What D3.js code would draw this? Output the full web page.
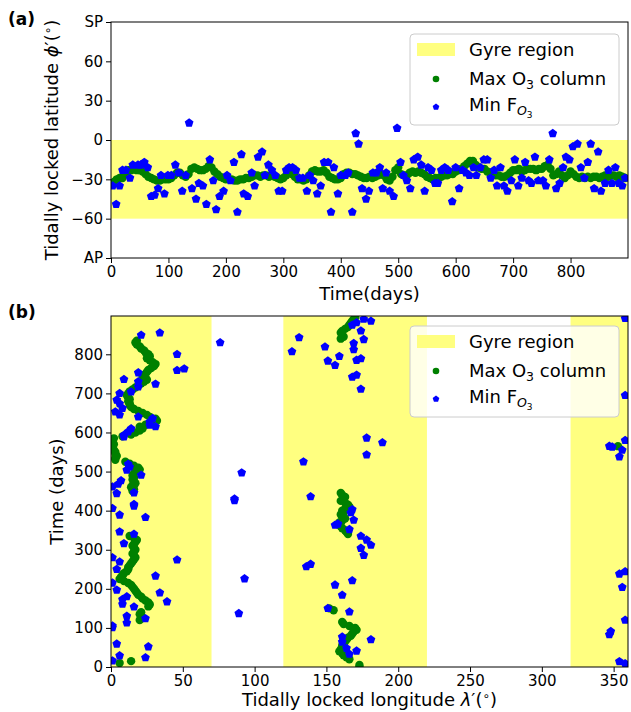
<!DOCTYPE html>
<html>
<head>
<meta charset="utf-8">
<script src="https://cdn.jsdelivr.net/npm/d3@7"></script>
<style>
    body {margin: 0; background: #fff;}
    svg text {font-family: "DejaVu Sans", sans-serif; fill: #000;}
</style>
</head>
<body>
<svg id="mainsvg" width="631" height="712"></svg>
<script>
// model output every 5 days
const sampleDays = d3.range(0, 900, 5);

// latitude of max O3 column, one value per sample day
const maxO3Lat = [
    -33,-32,-30,-29,-29,-26,-23,-23,-22,-23,-23,-24,-26,-28,-29,-30,-31,-31,-30,-30,
    -30,-29,-27,-25,-25,-27,-28,-26,-22,-21,-22,-23,-23,-22,-20,-21,-24,-26,-28,-29,
    -30,-30,-30,-31,-31,-30,-30,-29,-29,-28,-27,-27,-28,-27,-27,-28,-27,-28,-29,-30,
    -29,-27,-25,-26,-28,-30,-30,-31,-30,-27,-24,-23,-24,-24,-23,-25,-28,-29,-30,-30,
    -29,-26,-25,-25,-26,-26,-27,-28,-29,-29,-28,-29,-28,-27,-26,-27,-30,-31,-28,-23,
    -21,-26,-27,-27,-25,-24,-25,-24,-25,-26,-28,-29,-30,-29,-29,-28,-27,-27,-26,-26,
    -24,-23,-22,-20,-18,-16,-16,-19,-21,-22,-22,-24,-25,-26,-27,-27,-28,-28,-27,-25,
    -23,-23,-22,-24,-23,-22,-22,-22,-23,-22,-22,-20,-19,-22,-27,-26,-24,-27,-29,-27,
    -24,-26,-28,-29,-28,-29,-28,-29,-28,-28,-29,-28,-27,-28,-27,-27,-28,-27,-28,-29
];

// longitude of max O3 column, one value per sample day
const maxO3Lon = [
    173,173,6,14,166,164,162,161,159,160,162,161,162,163,164,165,167,168,169,171,
    170,166,162,161,20,22,21,20,21,155,152,26,27,26,24,22,21,19,18,17,
    16,15,14,12,9,6,7,8,9,11,12,12,13,14,15,16,17,16,15,16,
    17,16,15,16,17,18,16,13,165,164,163,161,160,158,159,161,163,161,160,162,
    161,163,166,165,163,160,162,163,161,160,15,16,14,15,17,16,15,16,15,16,
    17,20,19,16,13,10,3,3,4,3,3,2,1,353,2,1,1,2,8,14,
    17,20,22,20,24,28,32,31,27,25,22,19,16,14,13,13,12,13,12,11,
    12,13,15,17,19,21,23,25,24,22,24,25,26,28,30,31,29,27,25,27,
    26,24,23,21,20,18,17,18,160,162,161,160,161,163,165,166,167,168,169,170
];

// min F_O3 : [day, latitude]
const minFLat = [
    [3,-35],[9,-49],[15,-35],[20,-23],[26,-23],[33,-29],[38,-19],[47,-19],[52,-19],[58,-17],
    [64,-21],[70,-43],[76,-42],[82,-37],[87,-27],[93,-41],[99,-27],[105,-27],[112,-19],[118,-25],
    [124,-39],[130,-27],[136,13],[141,-37],[148,-45],[153,-33],[160,-35],[166,-49],[172,-15],[178,-31],
    [183,-53],[189,-43],[196,-39],[202,-27],[208,-31],[214,-17],[220,-55],[227,-11],[231,-41],[238,-43],
    [245,-25],[250,-35],[256,-13],[263,-9],[268,-27],[274,-19],[280,-23],[286,-27],[292,-39],[298,-39],
    [305,-23],[310,-21],[316,-21],[322,-23],[328,-29],[334,-29],[341,-39],[346,-27],[352,-31],[359,-41],
    [365,-35],[371,-17],[378,-17],[383,-55],[388,-21],[395,-41],[400,-27],[408,-27],[413,-25],[420,-55],
    [426,5],[431,-3],[437,-37],[444,-45],[449,-39],[456,-25],[462,-25],[468,-21],[473,-37],[479,-25],
    [485,-39],[492,-43],[498,9],[504,-17],[509,-27],[515,-31],[521,-37],[527,-15],[534,-13],[540,-19],
    [546,-39],[552,-21],[558,-23],[564,-33],[569,-33],[575,-23],[581,-21],[587,-23],[594,-47],[600,-21],
    [606,-37],[612,-23],[618,-25],[624,-27],[631,-21],[636,-27],[643,-21],[649,-15],[655,-15],[661,-29],
    [667,-23],[672,-35],[678,-21],[684,-35],[690,-39],[697,-31],[703,-15],[709,-35],[715,-29],[721,-17],
    [727,-31],[732,-33],[738,-13],[744,-31],[752,-31],[757,-35],[763,-15],[769,5],[775,-37],[781,-33],
    [787,-21],[792,-13],[798,-15],[804,-5],[812,-3],[818,-21],[824,-29],[830,-17],[835,-3],[841,-37],
    [848,-9],[853,-39],[860,-33],[866,-23],[872,-33],[878,-21],[884,-33],[890,-35],[895,-29]
];

// min F_O3 : [longitude, day]
const minFLon = [
    [21,849],[34,855],[46,800],[46,759],[51,763],[76,830],[19,753],[9,736],[19,730],[19,717],
    [31,724],[14,704],[6,700],[4,683],[6,674],[8,662],[3,653],[6,645],[19,640],[27,627],
    [29,636],[27,619],[31,615],[14,610],[12,602],[9,593],[9,589],[12,519],[13,512],[11,504],
    [21,491],[7,477],[5,468],[1,461],[4,444],[16,446],[16,416],[16,412],[91,497],[86,430],
    [86,426],[1,406],[6,389],[24,383],[6,346],[16,340],[9,316],[1,280],[6,269],[4,250],
    [1,215],[4,197],[11,180],[8,173],[8,161],[16,154],[24,124],[11,130],[11,113],[1,105],
    [1,101],[4,59],[26,52],[6,29],[24,24],[1,16],[46,274],[31,233],[34,190],[39,167],
    [93,226],[89,137],
    [131,843],[126,807],[149,819],[151,783],[156,772],[159,795],[169,828],[169,812],[174,860],[176,838],
    [168,875],[171,881],[176,890],[181,885],[171,785],[174,789],[168,742],[171,747],[174,711],[178,586],
    [189,574],[178,543],[134,525],[139,436],[168,403],[167,395],[169,376],[158,366],[156,363],[166,352],
    [174,335],[178,325],[181,312],[174,304],[176,286],[136,257],[139,263],[168,221],[156,210],[161,184],
    [151,150],[166,141],[161,77],[161,64],[181,70],[164,48],[171,41],[166,33],
    [358,695],[358,580],[347,565],[349,563],[356,555],[354,538],[358,244],[354,238],[356,204],[358,120],
    [348,91],[347,83],[354,14],[358,9],[358,892]
];

const gyreLat = [-60, 0];
const gyreLon = [[0, 70], [120, 220], [320, 360]];
const latTicks = [-90, -60, -30, 0, 30, 60, 90];
const dayTicks = [0, 100, 200, 300, 400, 500, 600, 700, 800];
const lonTicks = [0, 50, 100, 150, 200, 250, 300, 350];

const YELLOW = "#ffff80", GREEN = "#008000", BLUE = "#0000ff";

let svg = d3.select("#mainsvg");

// pentagon marker, matplotlib "p"
const pentagon = {
    draw: function(ctx, size) {
        let r = Math.sqrt(size);
        for (let i = 0; i < 5; i++) {
            let a = -Math.PI/2 + i*2*Math.PI/5;
            if (i === 0) ctx.moveTo(r*Math.cos(a), r*Math.sin(a));
            else ctx.lineTo(r*Math.cos(a), r*Math.sin(a));
        }
        ctx.closePath();
    }
};

function styleAxis(g) {
    g.select(".domain").remove();
    g.selectAll(".tick line").attr("stroke", "#000").attr("stroke-width", 1);
    g.selectAll(".tick text").attr("font-size", 15).attr("font-family", "DejaVu Sans");
}

function addLegend(g, x0, y0) {
    let lg = g.append("g").attr("transform", `translate(${x0},${y0})`);
    lg.append("rect").attr("width", 209).attr("height", 91).attr("rx", 4)
        .attr("fill", "#fff").attr("fill-opacity", 0.8)
        .attr("stroke", "#cccccc").attr("stroke-width", 1);
    lg.append("rect").attr("x", 7).attr("y", 9).attr("width", 38).attr("height", 13).attr("fill", YELLOW);
    lg.append("text").attr("x", 59).attr("y", 22).attr("font-size", 18).text("Gyre region");
    lg.append("circle").attr("cx", 26).attr("cy", 45).attr("r", 3.3).attr("fill", GREEN);
    let t2 = lg.append("text").attr("x", 59).attr("y", 51).attr("font-size", 18);
    t2.append("tspan").text("Max O");
    t2.append("tspan").attr("font-size", 12.5).attr("dy", 4).text("3");
    t2.append("tspan").attr("dy", -4).text(" column");
    lg.append("path").attr("transform", "translate(26,73)")
        .attr("d", d3.symbol().type(pentagon).size(3.5*3.5)()).attr("fill", BLUE);
    let t3 = lg.append("text").attr("x", 59).attr("y", 77).attr("font-size", 18);
    t3.append("tspan").text("Min F");
    t3.append("tspan").attr("font-size", 12.5).attr("font-style", "italic").attr("dy", 4).text("O");
    t3.append("tspan").attr("font-size", 9).attr("dy", 3).text("3");
}

// ---------- panel (a)
const ax = {l: 111, r: 628, t: 22, b: 258};
let xA = d3.scaleLinear().domain([0, 900]).range([ax.l, ax.r]);
let yA = d3.scaleLinear().domain([-90, 90]).range([ax.b, ax.t]);

svg.append("clipPath").attr("id", "clipA").append("rect")
    .attr("x", ax.l).attr("y", ax.t).attr("width", ax.r-ax.l).attr("height", ax.b-ax.t);
let gA = svg.append("g");
gA.append("rect").attr("x", ax.l).attr("width", ax.r-ax.l)
    .attr("y", yA(gyreLat[1])).attr("height", yA(gyreLat[0])-yA(gyreLat[1])).attr("fill", YELLOW);
let ptsA = gA.append("g").attr("clip-path", "url(#clipA)");
ptsA.selectAll("circle").data(maxO3Lat).enter().append("circle")
    .attr("cx", (d, i) => xA(sampleDays[i])).attr("cy", d => yA(d))
    .attr("r", 4.2).attr("fill", GREEN);
ptsA.selectAll("path").data(minFLat).enter().append("path")
    .attr("transform", d => `translate(${xA(d[0])},${yA(d[1])})`)
    .attr("d", d3.symbol().type(pentagon).size(4.6*4.6)()).attr("fill", BLUE);

gA.append("g").attr("transform", `translate(0,${ax.b})`)
    .call(d3.axisBottom(xA).tickValues(dayTicks).tickSize(5).tickPadding(3).tickFormat(d3.format("d")))
    .call(styleAxis);
gA.append("g").attr("transform", `translate(${ax.l},0)`)
    .call(d3.axisLeft(yA).tickValues(latTicks).tickSize(5).tickPadding(3)
        .tickFormat(d => d === 90 ? "SP" : d === -90 ? "AP" : d3.format("d")(d)))
    .call(styleAxis);
gA.append("rect").attr("x", ax.l).attr("y", ax.t).attr("width", ax.r-ax.l).attr("height", ax.b-ax.t)
    .attr("fill", "none").attr("stroke", "#000").attr("stroke-width", 1);

gA.append("text").attr("x", (ax.l+ax.r)/2).attr("y", 300).attr("text-anchor", "middle")
    .attr("font-size", 18).text("Time(days)");
let ylA = gA.append("text").attr("transform", `translate(58,${(ax.t+ax.b)/2}) rotate(-90)`)
    .attr("text-anchor", "middle").attr("font-size", 18);
ylA.append("tspan").text("Tidally locked latitude ");
ylA.append("tspan").attr("font-style", "italic").text("ϕ");
ylA.append("tspan").text("′(");
ylA.append("tspan").attr("font-size", 12).attr("dy", -6).text("∘");
ylA.append("tspan").attr("dy", 6).text(")");
gA.append("text").attr("x", 8).attr("y", 25).attr("font-size", 17).attr("font-weight", "bold").text("(a)");
addLegend(gA, 410, 34);

// ---------- panel (b)
const bx = {l: 111, r: 628, t: 316, b: 667};
let xB = d3.scaleLinear().domain([0, 360]).range([bx.l, bx.r]);
let yB = d3.scaleLinear().domain([0, 898]).range([bx.b, bx.t]);

svg.append("clipPath").attr("id", "clipB").append("rect")
    .attr("x", bx.l).attr("y", bx.t).attr("width", bx.r-bx.l).attr("height", bx.b-bx.t);
let gB = svg.append("g");
gB.selectAll(".gyre").data(gyreLon).enter().append("rect").attr("class", "gyre")
    .attr("x", d => xB(d[0])).attr("width", d => xB(d[1])-xB(d[0]))
    .attr("y", bx.t).attr("height", bx.b-bx.t).attr("fill", YELLOW);
let ptsB = gB.append("g").attr("clip-path", "url(#clipB)");
ptsB.selectAll("circle").data(maxO3Lon).enter().append("circle")
    .attr("cx", d => xB(d)).attr("cy", (d, i) => yB(sampleDays[i]))
    .attr("r", 4.2).attr("fill", GREEN);
ptsB.selectAll("path").data(minFLon).enter().append("path")
    .attr("transform", d => `translate(${xB(d[0])},${yB(d[1])})`)
    .attr("d", d3.symbol().type(pentagon).size(4.6*4.6)()).attr("fill", BLUE);

gB.append("g").attr("transform", `translate(0,${bx.b})`)
    .call(d3.axisBottom(xB).tickValues(lonTicks).tickSize(5).tickPadding(3).tickFormat(d3.format("d")))
    .call(styleAxis);
gB.append("g").attr("transform", `translate(${bx.l},0)`)
    .call(d3.axisLeft(yB).tickValues(dayTicks).tickSize(5).tickPadding(3).tickFormat(d3.format("d")))
    .call(styleAxis);
gB.append("rect").attr("x", bx.l).attr("y", bx.t).attr("width", bx.r-bx.l).attr("height", bx.b-bx.t)
    .attr("fill", "none").attr("stroke", "#000").attr("stroke-width", 1);

let xlB = gB.append("text").attr("x", (bx.l+bx.r)/2).attr("y", 706).attr("text-anchor", "middle")
    .attr("font-size", 18);
xlB.append("tspan").text("Tidally locked longitude ");
xlB.append("tspan").attr("font-style", "italic").text("λ");
xlB.append("tspan").text("′(");
xlB.append("tspan").attr("font-size", 12).attr("dy", -6).text("∘");
xlB.append("tspan").attr("dy", 6).text(")");
gB.append("text").attr("transform", `translate(63,${(bx.t+bx.b)/2}) rotate(-90)`)
    .attr("text-anchor", "middle").attr("font-size", 18).text("Time (days)");
gB.append("text").attr("x", 8).attr("y", 318).attr("font-size", 17).attr("font-weight", "bold").text("(b)");
addLegend(gB, 410, 326);
</script>
</body>
</html>
